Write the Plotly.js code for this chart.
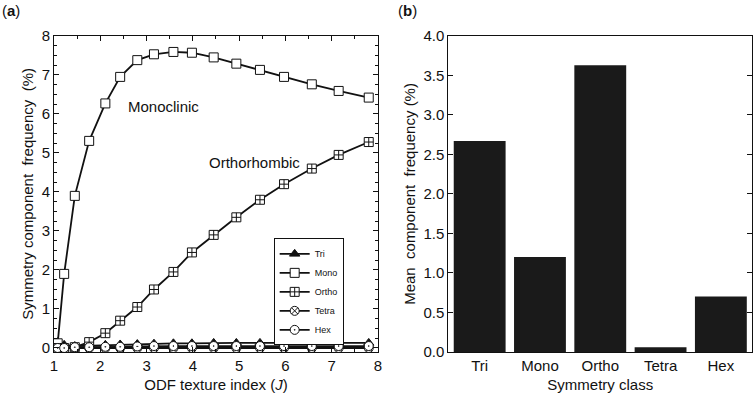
<!DOCTYPE html>
<html><head><meta charset="utf-8">
<script src="https://cdn.plot.ly/plotly-3.0.1.min.js"></script>
<style>body{margin:0}#c{width:756px;height:404px}</style>
</head><body><div id="c"></div>
<script>
"use strict";

// ODF texture index J for each computed point
const J = [1.08, 1.22, 1.45, 1.76, 2.11, 2.43, 2.80, 3.16, 3.58, 3.98, 4.45, 4.94, 5.45, 5.97, 6.57, 7.15, 7.80];
const triVals = [0.15, 0.08, 0.05, 0.06, 0.08, 0.09, 0.10, 0.11, 0.12, 0.12, 0.13, 0.13, 0.13, 0.13, 0.13, 0.13, 0.13];
const monoVals = [0.12, 1.9, 3.9, 5.31, 6.27, 6.95, 7.38, 7.53, 7.59, 7.57, 7.45, 7.29, 7.13, 6.95, 6.76, 6.59, 6.42];
const orthoVals = [0.0, 0.0, 0.02, 0.15, 0.38, 0.70, 1.05, 1.50, 1.95, 2.45, 2.90, 3.35, 3.80, 4.20, 4.60, 4.95, 5.28];
const tetraVals = [0.0, 0.0, 0.0, 0.0, 0.0, 0.0, 0.0, 0.0, 0.0, 0.0, 0.0, 0.0, 0.0, 0.0, 0.0, 0.0, 0.0];
const hexVals = [0.0, 0.0, 0.02, 0.02, 0.03, 0.03, 0.04, 0.05, 0.05, 0.05, 0.05, 0.05, 0.05, 0.05, 0.05, 0.05, 0.05];

const classes = ["Tri", "Mono", "Ortho", "Tetra", "Hex"];
const meanFreq = [2.67, 1.2, 3.63, 0.06, 0.7];

const FONT = { family: "Liberation Sans, Arial, sans-serif", size: 15, color: "#111" };

function series(name, y, symbol) {
  return {
    x: J, y: y, xaxis: "x", yaxis: "y", name: name, mode: "lines+markers",
    line: { color: "#111", width: 1.8 },
    marker: { symbol: symbol, size: 9, color: symbol === "triangle-up" ? "#111" : "#fff", line: { color: "#111", width: 1 } },
  };
}

const data = [
  series("Tri", triVals, "triangle-up"),
  series("Mono", monoVals, "square"),
  series("Ortho", orthoVals, "square-cross"),
  series("Tetra", tetraVals, "circle-x"),
  series("Hex", hexVals, "circle-dot"),
  {
    type: "bar", x: classes, y: meanFreq, xaxis: "x2", yaxis: "y2", showlegend: false,
    marker: { color: "#1a1a1a" }, width: 0.86,
  },
];

const axBase = {
  showline: true, linecolor: "#111", linewidth: 1, mirror: "ticks", ticks: "inside",
  ticklen: 5, tickcolor: "#111", showgrid: false, zeroline: false, tickfont: FONT,
};

const layout = {
  width: 756, height: 404, margin: { l: 0, r: 0, t: 0, b: 0 },
  paper_bgcolor: "#fff", plot_bgcolor: "#fff", font: FONT,
  xaxis: Object.assign({}, axBase, {
    domain: [0.0714, 0.5], range: [1, 8], dtick: 1,
    minor: { dtick: 0.5, ticks: "inside", ticklen: 3, tickcolor: "#111" },
    title: { text: "ODF texture index (<i>J</i>)", font: FONT, standoff: 6 },
  }),
  yaxis: Object.assign({}, axBase, {
    domain: [0.129, 0.911], range: [-0.1, 8], dtick: 1, anchor: "x",
    minor: { dtick: 0.25, ticks: "inside", ticklen: 3, tickcolor: "#111" },
    title: { text: "Symmetry component  frequency  (%)", font: FONT, standoff: 4 },
  }),
  xaxis2: Object.assign({}, axBase, {
    domain: [0.593, 0.995], range: [-0.52, 4.52], anchor: "y2", ticks: "",
    title: { text: "Symmetry class", font: FONT, standoff: 6 },
  }),
  yaxis2: Object.assign({}, axBase, {
    domain: [0.129, 0.911], range: [0, 4], dtick: 0.5, tickformat: ".1f", anchor: "x2",
    title: { text: "Mean  component  frequency (%)", font: FONT, standoff: 4 },
  }),
  bargap: 0.14,
  showlegend: true,
  legend: {
    x: 0.362, y: 0.41, xanchor: "left", yanchor: "top", bgcolor: "#fff",
    bordercolor: "#111", borderwidth: 1, font: { family: FONT.family, size: 9, color: "#111" },
    tracegroupgap: 0, itemwidth: 30,
  },
  annotations: [
    { text: "(<b>a</b>)", x: 0.0, y: 1.0, xref: "paper", yref: "paper", xanchor: "left", yanchor: "top", showarrow: false, font: FONT },
    { text: "(<b>b</b>)", x: 0.524, y: 1.0, xref: "paper", yref: "paper", xanchor: "left", yanchor: "top", showarrow: false, font: FONT },
    { text: "Monoclinic", x: 2.55, y: 6.2, xref: "x", yref: "y", xanchor: "left", showarrow: false, font: FONT },
    { text: "Orthorhombic", x: 4.3, y: 4.75, xref: "x", yref: "y", xanchor: "left", showarrow: false, font: FONT },
  ],
};

Plotly.newPlot("c", data, layout, { staticPlot: true });
</script></body></html>
